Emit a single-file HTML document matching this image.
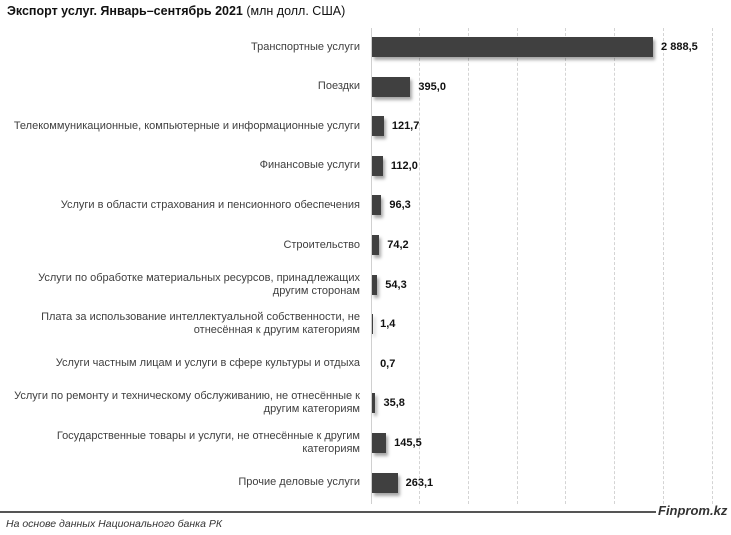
<!DOCTYPE html>
<html><head><meta charset="utf-8"><style>
body{margin:0;width:731px;height:535px;background:#fff;position:relative;overflow:hidden;font-family:"Liberation Sans",sans-serif;color:#333}
.t{position:absolute;left:7px;top:4px;font-size:12.5px;color:#111;white-space:nowrap}
.c{position:absolute;right:371px;font-size:11px;text-align:right;line-height:13px;color:#404040;white-space:nowrap}
.b{position:absolute;left:372px;height:20px;background:#404040;box-shadow:2px 3px 3px rgba(0,0,0,0.35)}
.v{position:absolute;font-size:11px;font-weight:bold;color:#111;line-height:14px}
.g{position:absolute;top:28px;height:476px;width:0;border-left:1px dashed #d4d4d4}
</style></head><body>
<div class="t"><b>Экспорт услуг. Январь–сентябрь 2021</b> (млн долл. США)</div>
<div style="position:absolute;left:371px;top:28px;width:1px;height:476px;background:#d0d0d0"></div>
<div class="g" style="left:419px"></div><div class="g" style="left:468px"></div><div class="g" style="left:517px"></div><div class="g" style="left:565px"></div><div class="g" style="left:614px"></div><div class="g" style="left:663px"></div><div class="g" style="left:712px"></div>
<div id="rows"></div>
<div style="position:absolute;left:0;top:511px;width:656px;height:2px;background:#555"></div>
<div style="position:absolute;left:658px;top:503px;font-size:13px;font-weight:bold;font-style:italic;color:#333">Finprom.kz</div>
<div style="position:absolute;left:6px;top:518px;font-size:10.5px;font-style:italic;color:#333">На основе данных Национального банка РК</div>
<script>
var d=[["Транспортные услуги",2888.5,"2 888,5"],["Поездки",395,"395,0"],["Телекоммуникационные, компьютерные и информационные услуги",121.7,"121,7"],["Финансовые услуги",112,"112,0"],["Услуги в области страхования и пенсионного обеспечения",96.3,"96,3"],["Строительство",74.2,"74,2"],["Услуги по обработке материальных ресурсов, принадлежащих<br>другим сторонам",54.3,"54,3"],["Плата за использование интеллектуальной собственности, не<br>отнесённая к другим категориям",1.4,"1,4"],["Услуги частным лицам и услуги в сфере культуры и отдыха",0.7,"0,7"],["Услуги по ремонту и техническому обслуживанию, не отнесённые к<br>другим категориям",35.8,"35,8"],["Государственные товары и услуги, не отнесённые к другим<br>категориям",145.5,"145,5"],["Прочие деловые услуги",263.1,"263,1"]];
var h="";
d.forEach(function(r,i){var cy=47+i*39.6;var w=r[1]*0.0973;var two=r[0].indexOf("<br>")>0;
h+='<div class="c" style="top:'+(cy-(two?13:6.5))+'px">'+r[0]+'</div>';
h+='<div class="b" style="top:'+(cy-10)+'px;width:'+w+'px"></div>';
h+='<div class="v" style="top:'+(cy-7)+'px;left:'+(372+w+8)+'px">'+r[2]+'</div>';});
document.getElementById("rows").innerHTML=h;
</script>
</body></html>
